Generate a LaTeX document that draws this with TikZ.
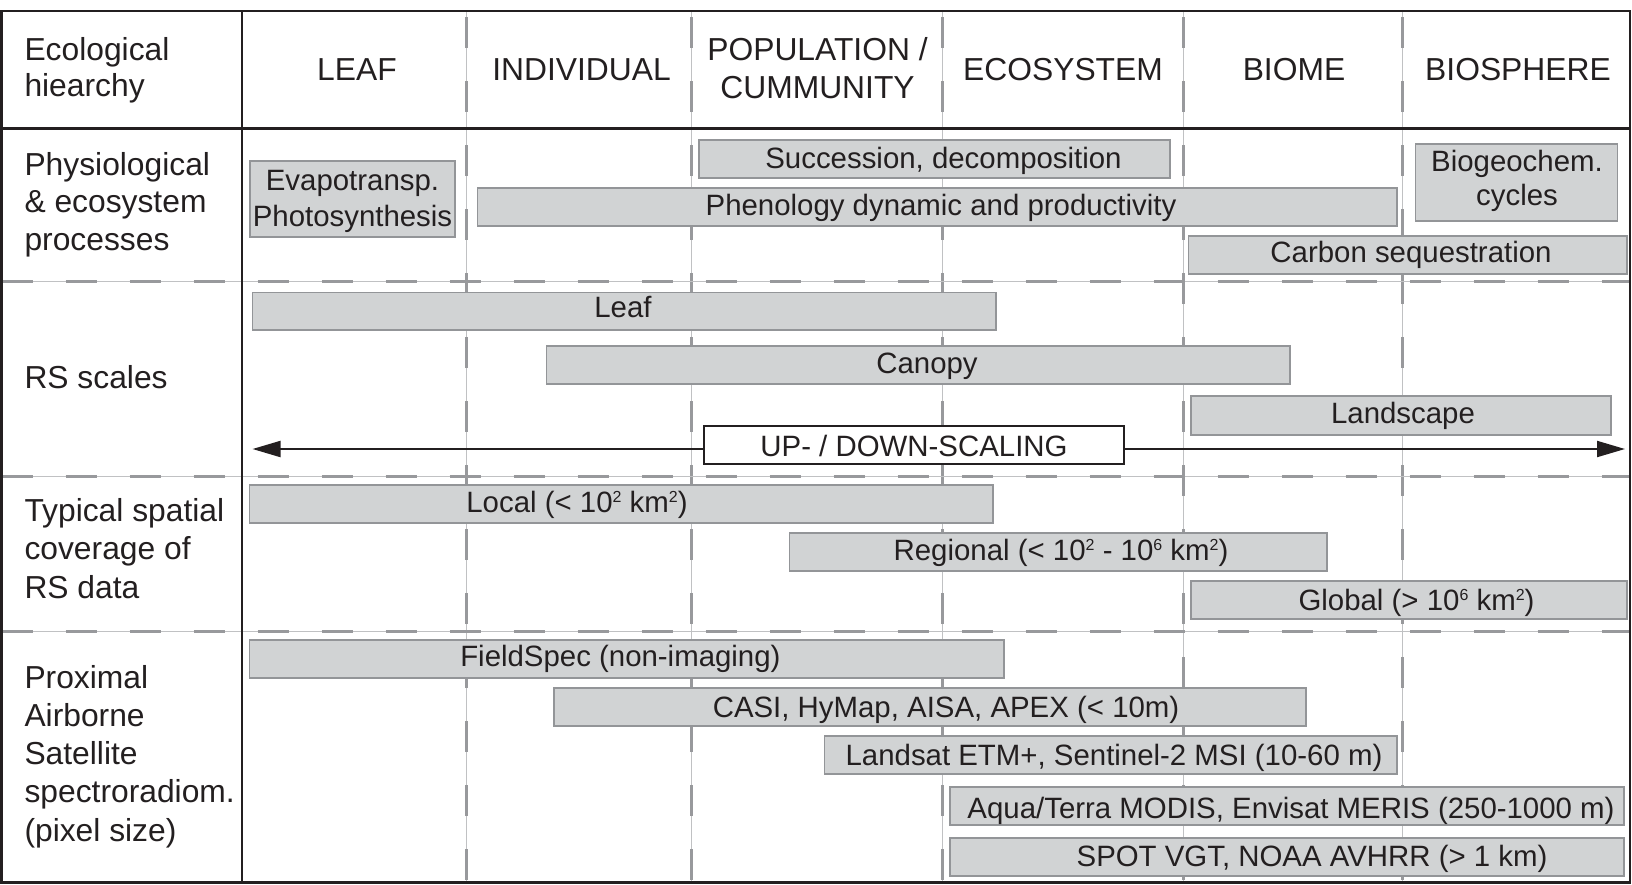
\documentclass[tikz,border=0pt]{standalone}
\usepackage{fontspec}
\setmainfont{Liberation Sans}
\usetikzlibrary{arrows.meta}
\definecolor{ink}{HTML}{231F20}
\definecolor{boxfill}{RGB}{209,211,212}
\definecolor{boxline}{RGB}{147,149,152}
\definecolor{gridthin}{RGB}{192,193,195}
\definecolor{griddash}{RGB}{152,153,156}
\newcommand\myup[1]{\raisebox{10pt}{\fontsize{16}{16}\selectfont #1}}
\tikzset{
 lab/.style={anchor=base west, inner sep=0pt, text=ink, font=\fontsize{31.8}{38}\selectfont},
 head/.style={anchor=base, inner sep=0pt, text=ink, font=\fontsize{31.8}{38}\selectfont},
 gbox/.style={draw=boxline, fill=boxfill, line width=1.6pt, inner sep=0pt, rectangle},
 btext/.style={anchor=base, inner sep=0pt, text=ink, font=\fontsize{29.4}{36}\selectfont},
 udbox/.style={draw=ink, fill=white, line width=2pt, inner sep=0pt, rectangle},
 frame/.style={draw=ink, line width=2.4pt},
 gthin/.style={draw=gridthin, line width=1pt},
 gdash/.style={draw=griddash, line width=3pt, dash pattern=on 31pt off 33pt},
 scalearrow/.style={draw=ink, line width=2pt, -{Triangle[length=28pt,width=16pt]}},
}
\newcommand\gb[8]{%
 \node[gbox, minimum width={(#4)-(#2)}, minimum height={(#5)-(#3)}] (#1) at ({((#2)+(#4))/2},{((#3)+(#5))/2}) {};
 \node[btext] (#1-t) at (#6,#7) {#8};}
\begin{document}
\begin{tikzpicture}[x=1pt,y=-1pt]
\useasboundingbox (0,0) rectangle (1632,884);
% grid
\foreach \x in {466,691,942.5,1183,1402} {
  \draw[gthin] (\x,11) -- (\x,882.5);
  \draw[gdash, dash phase=58pt] (\x,11) -- (\x,882.5);
}
\foreach \y in {281,476,631} {
  \draw[gthin] (1.5,\y) -- (1630,\y);
  \draw[gdash] (1.5,\y) -- (1630,\y);
}
% frame
\draw[frame] (1.5,11) rectangle (1630,882.5);
\draw[frame] (242,11) -- (242,882.5);
\draw[frame] (1.5,128.3) -- (1630,128.3);
% header
\node[lab] (h0a) at (24.3,60.7) {Ecological};
\node[lab] (h0b) at (24.3,96.7) {hiearchy};
\node[head] (h1) at (357,80) {LEAF};
\node[head] (h2) at (581.5,80) {INDIVIDUAL};
\node[head] (h3a) at (817.5,60) {POPULATION /};
\node[head] (h3b) at (817.5,98) {CUMMUNITY};
\node[head] (h4) at (1063,80) {ECOSYSTEM};
\node[head] (h5) at (1294,80) {BIOME};
\node[head] (h6) at (1518,80) {BIOSPHERE};
% row labels
\node[lab] (r1a) at (24.3,175) {Physiological};
\node[lab] (r1b) at (24.3,212.3) {\& ecosystem};
\node[lab] (r1c) at (24.3,250) {processes};
\node[lab] (r2) at (24.3,388.3) {RS scales};
\node[lab] (r3a) at (24.3,521.7) {Typical spatial};
\node[lab] (r3b) at (24.3,559.3) {coverage of};
\node[lab] (r3c) at (24.3,598.3) {RS data};
\node[lab] (r4a) at (24.3,688.3) {Proximal};
\node[lab] (r4b) at (24.3,726.7) {Airborne};
\node[lab] (r4c) at (24.3,764.3) {Satellite};
\node[lab] (r4d) at (24.3,802.7) {spectroradiom.};
\node[lab] (r4e) at (24.3,841) {(pixel size)};
% row 1
\node[gbox, minimum width=205, minimum height=76] (evap) at (352.5,199) {};
\node[btext] (evap-t1) at (352.5,190) {Evapotransp.};
\node[btext] (evap-t2) at (352.5,226.7) {Photosynthesis};
\gb{succ}{699}{140}{1170}{178}{943.5}{168}{Succession, decomposition}
\gb{phen}{477.5}{188}{1397}{226}{941}{215}{Phenology dynamic and productivity}
\node[gbox, minimum width=202, minimum height=77] (bgc) at (1516.6,182.5) {};
\node[btext] (bgc-t1) at (1517,171.7) {Biogeochem.};
\node[btext] (bgc-t2) at (1517,205) {cycles};
\gb{carb}{1188.5}{235.7}{1626.8}{274}{1411}{262}{Carbon sequestration}
% row 2
\gb{leaf}{252.5}{292.3}{996}{330}{623}{317}{Leaf}
\gb{canopy}{546.4}{345.7}{1290}{383.7}{927}{373.3}{Canopy}
\gb{land}{1191}{396}{1611}{434.7}{1403}{423.3}{Landscape}
\coordinate (aL) at (252.5,449);
\coordinate (aR) at (1625,449);
\node[udbox, minimum width=420, minimum height=38] (ud) at (914,444.7) {};
\node[btext] (ud-t) at (914,456) {UP- / DOWN-SCALING};
\draw[scalearrow] (ud.west |- aL) -- (aL);
\draw[scalearrow] (ud.east |- aR) -- (aR);
% row 3
\gb{local}{249.6}{484.7}{993}{523}{577}{512.3}{Local (< 10\myup{2} km\myup{2})}
\gb{regional}{789.6}{532.7}{1327}{570.7}{1061}{560}{Regional (< 10\myup{2} - 10\myup{6} km\myup{2})}
\gb{global}{1191}{581}{1627}{619}{1416.5}{610}{Global (> 10\myup{6} km\myup{2})}
% row 4
\gb{field}{249.6}{640}{1004}{678}{620.4}{666.7}{FieldSpec (non-imaging)}
\gb{casi}{554}{688}{1306}{726}{946}{717.3}{CASI, HyMap, AISA, APEX (< 10m)}
\gb{landsat}{824.6}{735.7}{1397}{774}{1114}{765.7}{Landsat ETM+, Sentinel-2 MSI (10-60 m)}
\gb{aqua}{950}{787}{1624}{825}{1291}{818.3}{Aqua/Terra MODIS, Envisat MERIS (250-1000 m)}
\gb{spot}{950}{837.7}{1624}{876}{1312}{866.7}{SPOT VGT, NOAA AVHRR (> 1 km)}
\end{tikzpicture}
\end{document}
